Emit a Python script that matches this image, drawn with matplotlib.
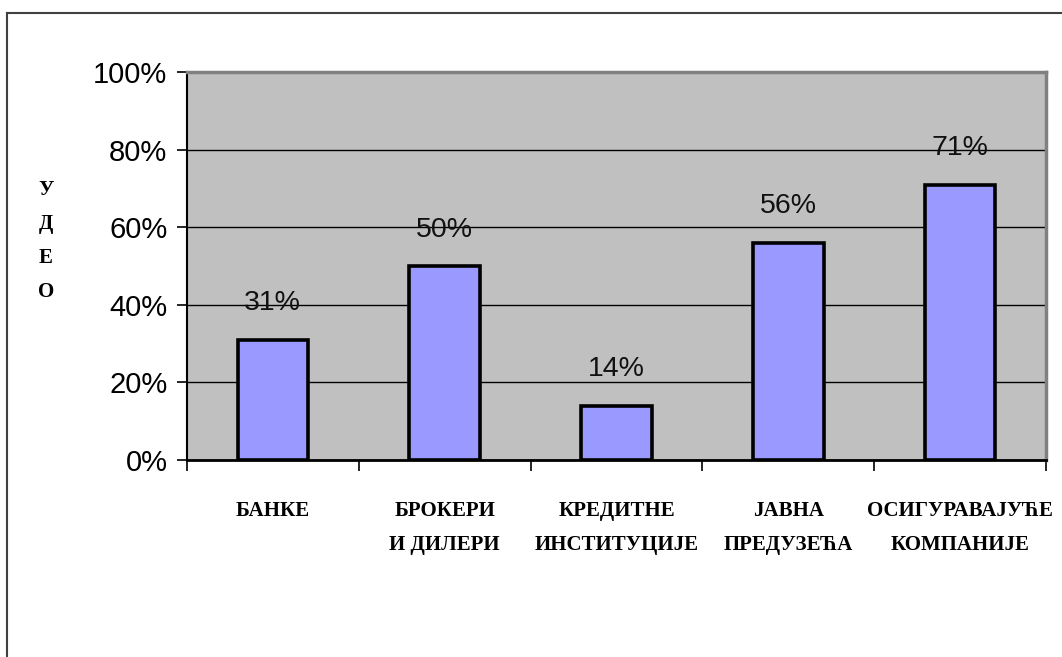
import numpy as np
import matplotlib.pyplot as plt
from matplotlib.lines import Line2D

# categories and shares
categories = ['БАНКЕ', 'БРОКЕРИ\nИ ДИЛЕРИ', 'КРЕДИТНЕ\nИНСТИТУЦИЈЕ',
              'ЈАВНА\nПРЕДУЗЕЋА', 'ОСИГУРАВАЈУЋЕ\nКОМПАНИЈЕ']
shares = [31, 50, 14, 56, 71]
yticks = [0, 20, 40, 60, 80, 100]

fig = plt.figure(figsize=(10.62, 6.57), dpi=100)
ax = fig.add_axes([0.176, 0.300, 0.809, 0.590])

x = np.arange(len(categories))
ax.set_facecolor('#c0c0c0')
ax.bar(x, shares, width=0.41, color='#9999ff', edgecolor='black',
       linewidth=2.6, zorder=3)

for xi, v in zip(x, shares):
    ax.text(xi, v + 9.4, f'{v}%', ha='center', va='center',
            fontsize=20.5, family='Liberation Sans', color='#111111', zorder=4)

ax.set_xlim(-0.5, len(categories) - 0.5)
ax.set_ylim(0, 100)
ax.set_yticks(yticks)
ax.set_yticklabels([f'{t}%' for t in yticks], family='Liberation Sans',
                   fontsize=21)
ax.yaxis.grid(True, color='black', linewidth=1.0, zorder=0)
ax.set_axisbelow(True)

# category boundaries get the tick marks, labels sit under the bars
ax.set_xticks(np.arange(-0.5, len(categories)))
ax.set_xticklabels([])
ax.tick_params(axis='x', length=8, width=1.2, color='black')
ax.tick_params(axis='y', length=7, width=1.2, pad=7)
for xi, lab in zip(x, categories):
    ax.text(xi, -10.5, lab, ha='center', va='top', fontsize=15,
            family='Liberation Serif', weight='bold', linespacing=1.95)

ax.spines['left'].set_color('black')
ax.spines['left'].set_linewidth(1.5)
ax.spines['bottom'].set_color('black')
ax.spines['bottom'].set_linewidth(2.0)
ax.spines['top'].set_color('#808080')
ax.spines['top'].set_linewidth(2.5)
ax.spines['right'].set_color('#808080')
ax.spines['right'].set_linewidth(2.5)

# vertical axis title, one letter per row
fig.text(0.043, 0.633, 'У\nД\nЕ\nО', ha='center', va='center', fontsize=15,
         family='Liberation Serif', weight='bold', linespacing=1.95)

# outer chart frame
fig.add_artist(Line2D([0.0066, 1.0], [0.980, 0.980], color='#404040',
                      linewidth=1.5, transform=fig.transFigure))
fig.add_artist(Line2D([0.0066, 0.0066], [0.0, 0.980], color='#404040',
                      linewidth=1.5, transform=fig.transFigure))

fig.savefig('out.png', dpi=100)
